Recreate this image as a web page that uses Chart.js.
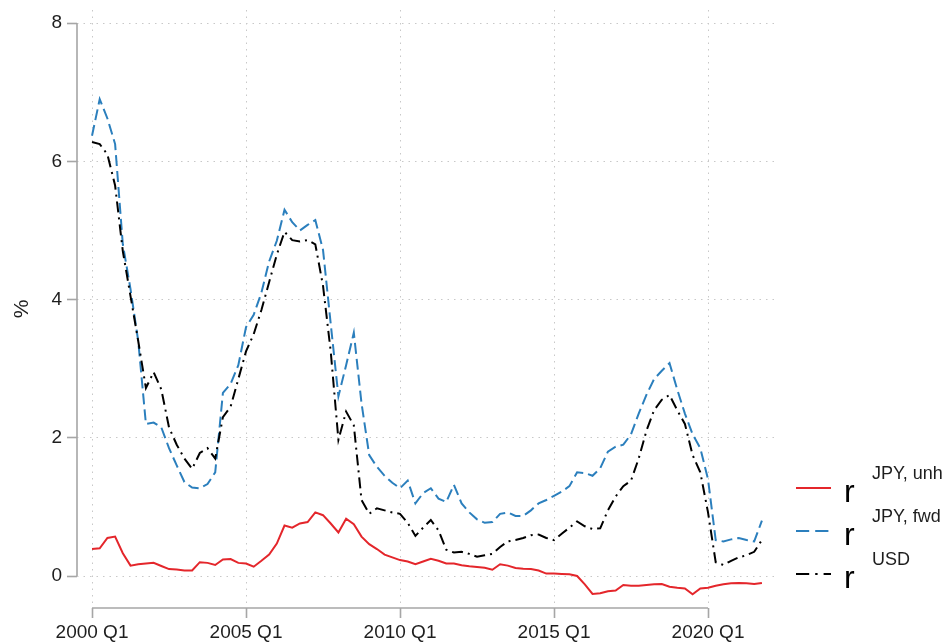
<!DOCTYPE html>
<html>
<head>
<meta charset="utf-8">
<title>r: JPY unh, JPY fwd, USD</title>
<script src="https://cdn.jsdelivr.net/npm/chart.js@4.4.1/dist/chart.umd.min.js"></script>
<style>
    body { margin: 0; background: #fff; }
    canvas { display: block; }
</style>
</head>
<body>
<canvas id="my-chart" width="948" height="643"></canvas>
<script>
// quarterly series, 2000 Q1 .. 2021 Q4 (index 0 = 2000 Q1)
const seriesNames = ["JPY, unh", "JPY, fwd", "USD"];

const jpyUnh = [
    0.39, 0.40, 0.55, 0.57, 0.33, 0.15, 0.17, 0.18, 0.19, 0.145,
    0.10, 0.095, 0.08, 0.08, 0.20, 0.19, 0.16, 0.24, 0.245, 0.19,
    0.18, 0.135, 0.22, 0.31, 0.47, 0.73, 0.70, 0.76, 0.78, 0.92,
    0.88, 0.76, 0.63, 0.83, 0.75, 0.57, 0.46, 0.39, 0.31, 0.27,
    0.23, 0.21, 0.17, 0.21, 0.25, 0.22, 0.18, 0.18, 0.155, 0.14,
    0.13, 0.12, 0.09, 0.17, 0.15, 0.115, 0.105, 0.10, 0.08, 0.035,
    0.035, 0.03, 0.025, 0.00, -0.12, -0.26, -0.25, -0.22, -0.21, -0.13,
    -0.14, -0.14, -0.13, -0.12, -0.115, -0.155, -0.17, -0.18, -0.265, -0.18,
    -0.17, -0.14, -0.12, -0.105, -0.10, -0.105, -0.115, -0.10
];

const jpyFwd = [
    6.37, 6.90, 6.62, 6.25, 4.80, 4.15, 3.40, 2.20, 2.22, 2.15,
    1.85, 1.60, 1.36, 1.28, 1.27, 1.33, 1.50, 2.65, 2.78, 3.05,
    3.60, 3.78, 4.10, 4.55, 4.85, 5.30, 5.12, 5.00, 5.08, 5.15,
    4.72, 3.65, 2.60, 3.05, 3.52, 2.50, 1.75, 1.58, 1.45, 1.35,
    1.27, 1.38, 1.05, 1.20, 1.27, 1.12, 1.07, 1.32, 1.05, 0.92,
    0.82, 0.77, 0.78, 0.90, 0.92, 0.87, 0.87, 0.95, 1.05, 1.10,
    1.16, 1.22, 1.30, 1.50, 1.49, 1.45, 1.56, 1.80, 1.87, 1.90,
    2.05, 2.35, 2.62, 2.85, 2.97, 3.08, 2.70, 2.35, 2.05, 1.85,
    1.40, 0.52, 0.50, 0.53, 0.55, 0.52, 0.50, 0.80
];

const usd = [
    6.28, 6.25, 6.10, 5.65, 4.70, 4.05, 3.40, 2.72, 2.95, 2.70,
    2.15, 1.90, 1.70, 1.55, 1.78, 1.85, 1.70, 2.30, 2.45, 2.85,
    3.25, 3.50, 3.85, 4.25, 4.65, 4.98, 4.86, 4.84, 4.86, 4.80,
    4.20, 3.25, 1.97, 2.38, 2.18, 1.10, 0.90, 0.98, 0.95, 0.92,
    0.90, 0.77, 0.58, 0.70, 0.81, 0.66, 0.38, 0.34, 0.35, 0.32,
    0.28, 0.30, 0.32, 0.42, 0.50, 0.52, 0.55, 0.59, 0.60, 0.55,
    0.52, 0.61, 0.70, 0.79, 0.72, 0.68, 0.69, 0.95, 1.15, 1.30,
    1.38, 1.70, 2.10, 2.40, 2.55, 2.62, 2.40, 2.20, 1.75, 1.50,
    0.92, 0.20, 0.16, 0.22, 0.27, 0.30, 0.35, 0.52
];

const xTicks = [0, 20, 40, 60, 80];
const xTickLabels = ["2000 Q1", "2005 Q1", "2010 Q1", "2015 Q1", "2020 Q1"];
const yTicks = [0, 2, 4, 6, 8];

const fontFamily = "Arial, 'Liberation Sans', sans-serif";
const axisColor = "#a6a6a6";
const gridColor = "#c8c8c8";
const textColor = "#1e1e1e";

function toPoints(values) {
    return values.map((v, i) => ({ x: i, y: v }));
}

// axis lines only span the tick range
const axisLines = {
    id: "axisLines",
    afterDraw(chart) {
        const ctx = chart.ctx;
        const xs = chart.scales.x;
        const ys = chart.scales.y;
        ctx.save();
        ctx.strokeStyle = axisColor;
        ctx.lineWidth = 1.6;
        ctx.beginPath();
        ctx.moveTo(ys.right, ys.getPixelForValue(yTicks[0]));
        ctx.lineTo(ys.right, ys.getPixelForValue(yTicks[yTicks.length - 1]));
        ctx.moveTo(xs.getPixelForValue(xTicks[0]), xs.top);
        ctx.lineTo(xs.getPixelForValue(xTicks[xTicks.length - 1]), xs.top);
        ctx.stroke();
        ctx.restore();
    }
};

// legend: line sample, big "r", name raised as a superscript
const rLegend = {
    id: "rLegend",
    afterDraw(chart) {
        const ctx = chart.ctx;
        const x0 = chart.chartArea.right + 21;
        const y0 = 488;
        const step = 43;
        ctx.save();
        chart.data.datasets.forEach((ds, k) => {
            const y = y0 + k * step;
            ctx.strokeStyle = ds.borderColor;
            ctx.lineWidth = ds.borderWidth;
            ctx.setLineDash((ds.borderDash || []).map(d => d * 1.2));
            ctx.beginPath();
            ctx.moveTo(x0, y);
            ctx.lineTo(x0 + 35, y);
            ctx.stroke();
            ctx.setLineDash([]);
            ctx.fillStyle = "#000";
            ctx.textBaseline = "alphabetic";
            ctx.textAlign = "left";
            ctx.font = "32px " + fontFamily;
            ctx.fillText("r", x0 + 48, y + 14);
            ctx.font = "18px " + fontFamily;
            ctx.fillStyle = textColor;
            ctx.fillText(seriesNames[k], x0 + 76, y - 9);
        });
        ctx.restore();
    }
};

const ctx = document.getElementById("my-chart").getContext("2d");

new Chart(ctx, {
    type: "line",
    data: {
        datasets: [
            {
                label: seriesNames[0],
                data: toPoints(jpyUnh),
                borderColor: "#e4262b",
                borderWidth: 2,
                borderDash: [],
                order: 2
            },
            {
                label: seriesNames[1],
                data: toPoints(jpyFwd),
                borderColor: "#2b7fbd",
                borderWidth: 2,
                borderDash: [11, 5],
                order: 1
            },
            {
                label: seriesNames[2],
                data: toPoints(usd),
                borderColor: "#000000",
                borderWidth: 2,
                borderDash: [11, 5, 2, 5],
                order: 0
            }
        ]
    },
    options: {
        responsive: false,
        animation: false,
        devicePixelRatio: 1,
        elements: {
            point: { radius: 0 },
            line: { tension: 0, borderCapStyle: "butt", fill: false }
        },
        layout: { padding: { left: 0, top: 10, right: 173, bottom: 0 } },
        plugins: {
            legend: { display: false },
            tooltip: { enabled: false }
        },
        scales: {
            x: {
                type: "linear",
                min: -1.95,
                max: 88.7,
                afterBuildTicks: scale => {
                    scale.ticks = xTicks.map(v => ({ value: v }));
                },
                afterFit: scale => {
                    scale.height = 35;
                    scale.paddingLeft = 0;
                    scale.paddingRight = 0;
                },
                ticks: {
                    autoSkip: false,
                    maxRotation: 0,
                    padding: 3,
                    color: textColor,
                    font: { family: fontFamily, size: 19 },
                    callback: value => xTickLabels[xTicks.indexOf(value)]
                },
                grid: {
                    color: gridColor,
                    lineWidth: 1,
                    drawTicks: true,
                    tickLength: 10,
                    tickColor: axisColor,
                    tickWidth: 1.6
                },
                border: { display: false, dash: [1.5, 5] }
            },
            y: {
                min: -0.463,
                max: 8.19,
                afterBuildTicks: scale => {
                    scale.ticks = yTicks.map(v => ({ value: v }));
                },
                afterFit: scale => {
                    scale.width = 77;
                    scale.paddingTop = 0;
                    scale.paddingBottom = 0;
                },
                ticks: {
                    padding: 5,
                    color: textColor,
                    font: { family: fontFamily, size: 19 }
                },
                grid: {
                    color: gridColor,
                    lineWidth: 1,
                    drawTicks: true,
                    tickLength: 10,
                    tickColor: axisColor,
                    tickWidth: 1.6
                },
                border: { display: false, dash: [1.5, 5] },
                title: {
                    display: true,
                    text: "%",
                    color: textColor,
                    font: { family: fontFamily, size: 21 },
                    padding: { top: 10, bottom: 10 }
                }
            }
        }
    },
    plugins: [axisLines, rLegend]
});
</script>
</body>
</html>
